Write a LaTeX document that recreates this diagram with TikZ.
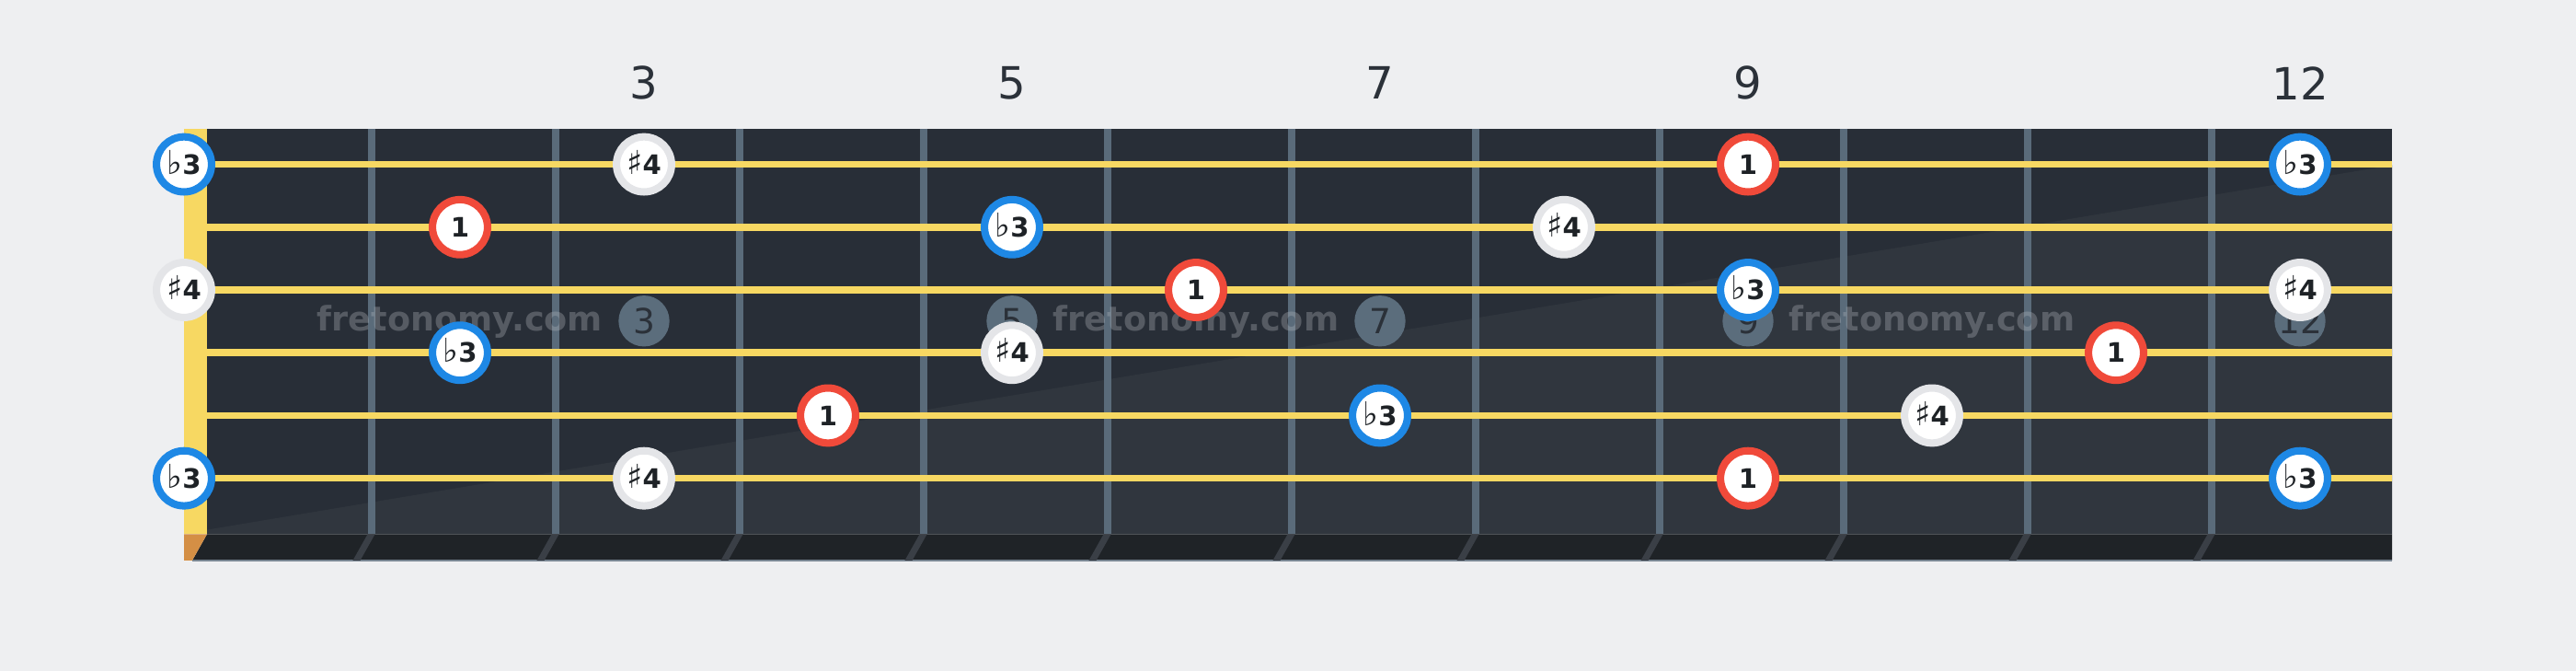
\documentclass[tikz,border=0pt]{standalone}
\usepackage{fontspec}
\setmainfont{DejaVu Sans}
\definecolor{bg}{HTML}{EEEFF1}
\definecolor{board}{HTML}{282E37}
\definecolor{boardlight}{HTML}{30363E}
\definecolor{fretcol}{HTML}{5A6B7A}
\definecolor{stringcol}{HTML}{F7D862}
\definecolor{stripcol}{HTML}{1F2327}
\definecolor{stripfret}{HTML}{3A3F46}
\definecolor{nutbase}{HTML}{D48F45}
\definecolor{rootcol}{HTML}{F04A3A}
\definecolor{thirdcol}{HTML}{1E88E5}
\definecolor{fourthcol}{HTML}{E4E5E8}
\definecolor{inkcol}{HTML}{1E2226}
\definecolor{numcol}{HTML}{2B3139}
\definecolor{markcol}{HTML}{5B6D7C}
\definecolor{wmcol}{HTML}{B4B8BE}
\newcommand\acc[1]{\smash{\fontsize{20}{20}\selectfont #1}}
\newcommand\Lroot{\textbf{1}}
\newcommand\Lthird{\acc{♭}\textbf{3}}
\newcommand\Lfourth{\acc{♯}\textbf{4}}
\tikzset{
  note/.style={circle, fill=white, line width=4.5pt, minimum size=33.5pt, inner sep=0pt,
    text=inkcol, font=\fontsize{16.3}{16.3}\selectfont},
  root/.style={note, draw=rootcol},
  third/.style={note, draw=thirdcol},
  fourth/.style={note, draw=fourthcol},
  fretmark/.style={circle, fill=markcol, minimum size=31pt, inner sep=0pt, text=numcol,
    font=\fontsize{21}{21}\selectfont},
  watermark/.style={text=wmcol, text opacity=0.33, font=\fontsize{20.5}{20.5}\selectfont\bfseries},
  fretnum/.style={text=numcol, font=\fontsize{27}{27}\selectfont},
}
\begin{document}
\begin{tikzpicture}[x=1pt,y=-1pt]
    \fill[bg] (0,0) rectangle (1568,408);
    \useasboundingbox (0,0) rectangle (1568,408);
    % board
    \fill[board] (126,78.4) rectangle (1456,325);
    \fill[boardlight] (126,322.3) -- (1456,100.5) -- (1456,325) -- (126,325) -- cycle;
    \fill[stripcol] (126,325) -- (1456,325) -- (1456,341) -- (117,341) -- cycle;
    \draw[fretcol!80!bg, line width=1pt] (117,341) -- (1456,341);
    \fill[stringcol] (112,78.4) rectangle (126,325);
    \fill[nutbase] (112,325) -- (126,325) -- (117,341) -- (112,341) -- cycle;
    \foreach \k in {1,...,11} {
        \pgfmathsetmacro\c{112*(\k+1)+2}
        \fill[fretcol] (\c-2.25,78.4) rectangle (\c+2.25,325);
        \fill[stripfret] (\c-2.25,325) -- (\c+2.25,325) -- (\c-6.75,341) -- (\c-11.25,341) -- cycle;
    }
    % inlays and watermark
    \foreach \n in {3,5,7,9,12}
        \node[fretmark] (m\n) at (56+112*\n,195.3) {\n};
    \foreach \n in {2,6,10}
        \node[watermark] (w\n) at (56+112*\n,196) {fretonomy.com};
    \foreach \n in {3,5,7,9,12}
        \node[fretnum] (f\n) at (56+112*\n,50.5) {\n};
    % strings
    \foreach \s in {1,...,6}
        \draw[stringcol, line width=4.3pt] (126,61.8+38.2*\s) -- (1456,61.8+38.2*\s);
    % notes
    \foreach \s/\f/\kind in {1/0/third, 1/3/fourth, 1/9/root, 1/12/third,
                             2/2/root, 2/5/third, 2/8/fourth,
                             3/0/fourth, 3/6/root, 3/9/third, 3/12/fourth,
                             4/2/third, 4/5/fourth, 4/11/root,
                             5/4/root, 5/7/third, 5/10/fourth,
                             6/0/third, 6/3/fourth, 6/9/root, 6/12/third} {
        \pgfmathsetmacro\x{ifthenelse(\f==0,112,56+112*\f)}
        \node[\kind] (n\s-\f) at (\x,61.8+38.2*\s) {\csname L\kind\endcsname};
    }
\end{tikzpicture}
\end{document}
